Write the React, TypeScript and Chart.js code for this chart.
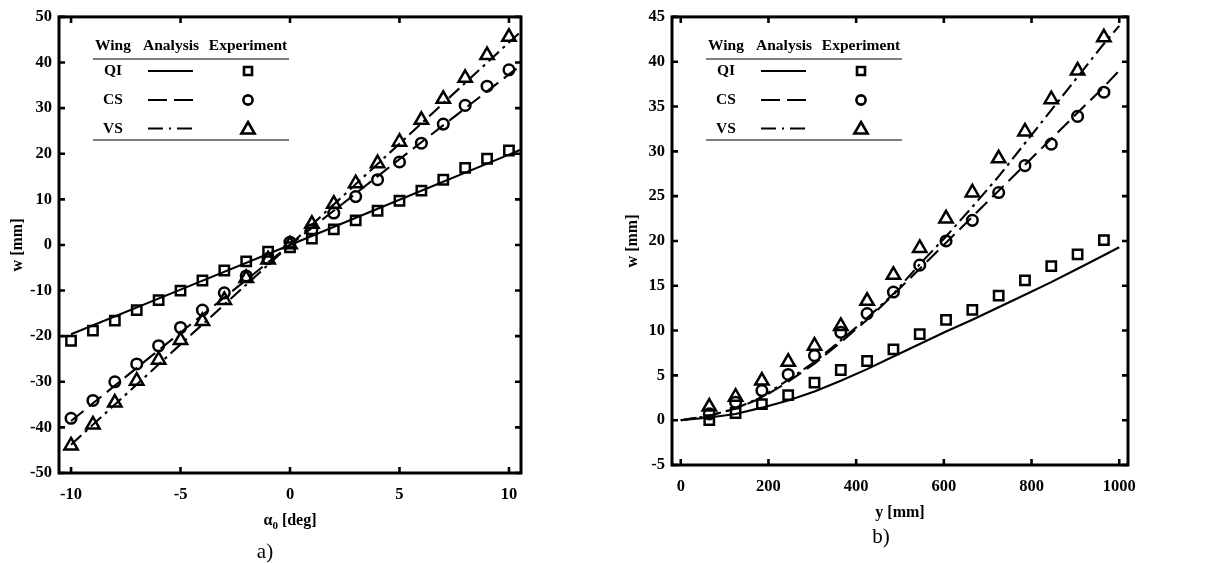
import { useEffect, useRef } from "react";
import { Chart, registerables } from "chart.js";

Chart.register(...registerables);

const FONT = '"Liberation Serif", "Times New Roman", serif';

// ---- Panel a) : deflection w versus root angle of attack alpha_0 ----
const alphaExp = [-10, -9, -8, -7, -6, -5, -4, -3, -2, -1, 0, 1, 2, 3, 4, 5, 6, 7, 8, 9, 10];
const qiExpA = [-21.0, -18.8, -16.6, -14.3, -12.1, -10.0, -7.8, -5.6, -3.6, -1.5, -0.5, 1.4, 3.4, 5.4, 7.5, 9.7, 11.9, 14.3, 16.9, 18.9, 20.7];
const csExpA = [-38.0, -34.1, -30.0, -26.1, -22.1, -18.1, -14.3, -10.5, -6.8, -3.0, 0.6, 3.3, 7.0, 10.6, 14.3, 18.2, 22.3, 26.5, 30.6, 34.8, 38.4];
const vsExpA = [-44.0, -39.4, -34.6, -29.8, -25.2, -20.9, -16.7, -12.1, -7.3, -3.2, 0.1, 4.6, 9.0, 13.5, 17.9, 22.6, 27.4, 32.0, 36.6, 41.6, 45.6];

const alphaAna = [-10, -5, 0, 5, 10, 10.5];
const qiAnaA = [-19.6, -9.8, 0, 9.9, 19.8, 20.8];
const csAnaA = [-38.6, -19.2, 0, 18.8, 37.4, 39.2];
const vsAnaA = [-43.8, -21.8, 0, 22.2, 44.4, 46.6];

const alphaTicks = [-10, -5, 0, 5, 10];
const wTicksA = [-50, -40, -30, -20, -10, 0, 10, 20, 30, 40, 50];

// ---- Panel b) : deflection w along the span y ----
const spanExp = [65, 125, 185, 245, 305, 365, 425, 485, 545, 605, 665, 725, 785, 845, 905, 965];
const qiExpB = [0.0, 0.8, 1.8, 2.8, 4.2, 5.6, 6.6, 7.9, 9.6, 11.2, 12.3, 13.9, 15.6, 17.2, 18.5, 20.1];
const csExpB = [0.7, 2.0, 3.3, 5.1, 7.2, 9.8, 11.9, 14.3, 17.3, 20.0, 22.3, 25.4, 28.4, 30.8, 33.9, 36.6];
const vsExpB = [1.5, 2.6, 4.4, 6.5, 8.3, 10.5, 13.3, 16.2, 19.2, 22.5, 25.4, 29.2, 32.2, 35.8, 39.0, 42.7];

const spanAna = [0, 65, 125, 185, 245, 305, 365, 425, 485, 545, 605, 665, 725, 785, 845, 905, 965, 1000];
const qiAnaB = [0, 0.3, 0.7, 1.4, 2.2, 3.2, 4.4, 5.7, 7.1, 8.5, 9.9, 11.2, 12.6, 14.0, 15.4, 16.9, 18.4, 19.3];
const csAnaB = [0, 0.5, 1.3, 2.5, 4.3, 6.3, 8.7, 11.2, 14.0, 16.9, 19.8, 22.7, 25.6, 28.5, 31.4, 34.3, 37.2, 39.0];
const vsAnaB = [0, 0.5, 1.3, 2.6, 4.5, 6.5, 8.9, 11.4, 14.1, 17.4, 20.5, 23.8, 27.2, 30.9, 34.6, 38.3, 42.0, 44.0];

const spanTicks = [0, 200, 400, 600, 800, 1000];
const wTicksB = [-5, 0, 5, 10, 15, 20, 25, 30, 35, 40, 45];

// ---- Legend table ----
const legendHeader = ["Wing", "Analysis", "Experiment"];
const wingNames = ["QI", "CS", "VS"];

const DASH = [16, 7];
const DASHDOT = [14, 5, 3, 5];
const lineDashes = [[], DASH, DASHDOT];
const legendDashes = [[], [19, 7], [15, 6, 2, 6]];
const markerStyles = ["rect", "circle", "triangle"] as const;
const markerRadii = [6.6, 5.3, 7.7];

type XY = { x: number; y: number };
const pts = (xs: number[], ys: number[]): XY[] => xs.map((x, i) => ({ x, y: ys[i] }));

function analysisSet(label: string, data: XY[], i: number) {
  return {
    label,
    data,
    showLine: true,
    borderColor: "#000",
    borderWidth: 2.1,
    borderDash: lineDashes[i],
    pointRadius: 0,
    fill: false,
    tension: 0,
  };
}

function experimentSet(label: string, data: XY[], i: number) {
  return {
    label,
    data,
    showLine: false,
    pointStyle: markerStyles[i],
    pointRadius: markerRadii[i],
    borderColor: "#000",
    backgroundColor: "rgba(0,0,0,0)",
    borderWidth: 2.5,
  };
}

function drawMarker(ctx: CanvasRenderingContext2D, kind: number, x: number, y: number) {
  ctx.save();
  ctx.strokeStyle = "#000";
  ctx.lineWidth = 2.6;
  ctx.setLineDash([]);
  ctx.beginPath();
  if (kind === 0) {
    ctx.rect(x - 4, y - 4, 8, 8);
  } else if (kind === 1) {
    ctx.arc(x, y, 4.6, 0, Math.PI * 2);
  } else {
    ctx.moveTo(x, y - 6.5);
    ctx.lineTo(x + 6.6, y + 5);
    ctx.lineTo(x - 6.6, y + 5);
    ctx.closePath();
  }
  ctx.stroke();
  ctx.restore();
}

function drawLegendTable(ctx: CanvasRenderingContext2D, left: number) {
  ctx.save();
  ctx.fillStyle = "#000";
  ctx.textAlign = "center";
  ctx.textBaseline = "middle";
  ctx.font = `bold 15.5px ${FONT}`;
  const colX = [left + 54, left + 112, left + 189];
  legendHeader.forEach((t, i) => ctx.fillText(t, colX[i], 46));
  ctx.strokeStyle = "#555";
  ctx.lineWidth = 1.3;
  [59, 140].forEach((yy) => {
    ctx.beginPath();
    ctx.moveTo(left + 34, yy);
    ctx.lineTo(left + 230, yy);
    ctx.stroke();
  });
  const rowY = [71, 100, 128.5];
  wingNames.forEach((n, i) => {
    ctx.fillStyle = "#000";
    ctx.fillText(n, colX[0], rowY[i]);
    ctx.strokeStyle = "#000";
    ctx.lineWidth = 2;
    ctx.setLineDash(legendDashes[i]);
    ctx.beginPath();
    ctx.moveTo(left + 89, rowY[i]);
    ctx.lineTo(left + 134, rowY[i]);
    ctx.stroke();
    ctx.setLineDash([]);
    drawMarker(ctx, i, colX[2], rowY[i]);
  });
  ctx.restore();
}

type PanelOpts = {
  xMin: number;
  xMax: number;
  yMin: number;
  yMax: number;
  xTicks: number[];
  yTicks: number[];
  yAxisWidth: number;
  xAxisHeight: number;
  padRight: number;
  xTitle: "alpha" | "span";
  caption: string;
  captionX: number;
  captionY: number;
  xTitleY: number;
  yTitleX: number;
  datasets: any[];
};

function drawXTitle(ctx: CanvasRenderingContext2D, kind: "alpha" | "span", cx: number, cy: number) {
  ctx.save();
  ctx.fillStyle = "#000";
  ctx.textBaseline = "middle";
  ctx.textAlign = "left";
  const main = `bold 16px ${FONT}`;
  const sub = `bold 11px ${FONT}`;
  if (kind === "alpha") {
    ctx.font = main;
    const wa = ctx.measureText("α").width;
    const wr = ctx.measureText(" [deg]").width;
    ctx.font = sub;
    const ws = ctx.measureText("0").width;
    let x = cx - (wa + ws + wr) / 2;
    ctx.font = main;
    ctx.fillText("α", x, cy);
    x += wa;
    ctx.font = sub;
    ctx.fillText("0", x, cy + 5);
    x += ws;
    ctx.font = main;
    ctx.fillText(" [deg]", x, cy);
  } else {
    ctx.font = main;
    ctx.textAlign = "center";
    ctx.fillText("y [mm]", cx, cy);
  }
  ctx.restore();
}

function framePlugin(o: PanelOpts) {
  return {
    id: "frameTicks",
    afterDraw(chart: any) {
      const { ctx, chartArea } = chart;
      const { left, right, top, bottom } = chartArea;
      const xs = chart.scales.x;
      const ys = chart.scales.y;
      ctx.save();
      ctx.strokeStyle = "#000";
      ctx.setLineDash([]);
      ctx.lineWidth = 2.6;
      const tl = 6;
      o.xTicks.forEach((v) => {
        const px = xs.getPixelForValue(v);
        ctx.beginPath();
        ctx.moveTo(px, bottom);
        ctx.lineTo(px, bottom - tl);
        ctx.moveTo(px, top);
        ctx.lineTo(px, top + tl);
        ctx.stroke();
      });
      o.yTicks.forEach((v) => {
        const py = ys.getPixelForValue(v);
        ctx.beginPath();
        ctx.moveTo(left, py);
        ctx.lineTo(left + tl, py);
        ctx.moveTo(right, py);
        ctx.lineTo(right - tl, py);
        ctx.stroke();
      });
      ctx.lineWidth = 3;
      ctx.strokeRect(left, top, right - left, bottom - top);

      // axis titles
      drawXTitle(ctx, o.xTitle, (left + right) / 2, o.xTitleY);
      ctx.save();
      ctx.translate(o.yTitleX, (top + bottom) / 2);
      ctx.rotate(-Math.PI / 2);
      ctx.font = `bold 16px ${FONT}`;
      ctx.fillStyle = "#000";
      ctx.textAlign = "center";
      ctx.textBaseline = "middle";
      ctx.fillText("w [mm]", 0, 0);
      ctx.restore();

      // panel caption
      ctx.font = `21px ${FONT}`;
      ctx.fillStyle = "#000";
      ctx.textAlign = "center";
      ctx.textBaseline = "middle";
      ctx.fillText(o.caption, o.captionX, o.captionY);

      drawLegendTable(ctx, left);
      ctx.restore();
    },
  };
}

function makeConfig(o: PanelOpts): any {
  const tickFont = { family: FONT, size: 16.5, weight: "bold" as const };
  return {
    type: "scatter",
    data: { datasets: o.datasets },
    options: {
      animation: false,
      responsive: false,
      maintainAspectRatio: false,
      layout: { padding: { top: 14, right: o.padRight, bottom: 0, left: 0 } },
      plugins: { legend: { display: false }, tooltip: { enabled: false } },
      scales: {
        x: {
          type: "linear",
          min: o.xMin,
          max: o.xMax,
          grid: { display: false, drawTicks: false },
          border: { display: false },
          ticks: {
            font: tickFont,
            color: "#000",
            padding: 12,
            maxRotation: 0,
            callback: (v: number) => String(v),
          },
          afterBuildTicks: (scale: any) => {
            scale.ticks = o.xTicks.map((value) => ({ value }));
          },
          afterFit: (scale: any) => {
            scale.height = o.xAxisHeight;
          },
        },
        y: {
          type: "linear",
          min: o.yMin,
          max: o.yMax,
          grid: { display: false, drawTicks: false },
          border: { display: false },
          ticks: {
            font: tickFont,
            color: "#000",
            padding: 7,
            callback: (v: number) => String(v),
          },
          afterBuildTicks: (scale: any) => {
            scale.ticks = o.yTicks.map((value) => ({ value }));
          },
          afterFit: (scale: any) => {
            scale.width = o.yAxisWidth;
          },
        },
      },
    },
    plugins: [framePlugin(o)],
  };
}

const panelA: PanelOpts = {
  xMin: -10.55,
  xMax: 10.55,
  yMin: -50,
  yMax: 50,
  xTicks: alphaTicks,
  yTicks: wTicksA,
  yAxisWidth: 59,
  xAxisHeight: 90,
  padRight: 89,
  xTitle: "alpha",
  caption: "a)",
  captionX: 265,
  captionY: 552,
  xTitleY: 521,
  yTitleX: 18,
  datasets: [
    analysisSet("QI analysis", pts(alphaAna, qiAnaA), 0),
    analysisSet("CS analysis", pts(alphaAna, csAnaA), 1),
    analysisSet("VS analysis", pts(alphaAna, vsAnaA), 2),
    experimentSet("QI experiment", pts(alphaExp, qiExpA), 0),
    experimentSet("CS experiment", pts(alphaExp, csExpA), 1),
    experimentSet("VS experiment", pts(alphaExp, vsExpA), 2),
  ],
};

const panelB: PanelOpts = {
  xMin: -20,
  xMax: 1020,
  yMin: -5,
  yMax: 45,
  xTicks: spanTicks,
  yTicks: wTicksB,
  yAxisWidth: 62,
  xAxisHeight: 98,
  padRight: 100,
  xTitle: "span",
  caption: "b)",
  captionX: 271,
  captionY: 537,
  xTitleY: 513,
  yTitleX: 23,
  datasets: [
    analysisSet("QI analysis", pts(spanAna, qiAnaB), 0),
    analysisSet("CS analysis", pts(spanAna, csAnaB), 1),
    analysisSet("VS analysis", pts(spanAna, vsAnaB), 2),
    experimentSet("QI experiment", pts(spanExp, qiExpB), 0),
    experimentSet("CS experiment", pts(spanExp, csExpB), 1),
    experimentSet("VS experiment", pts(spanExp, vsExpB), 2),
  ],
};

function Panel({ opts, left, width }: { opts: PanelOpts; left: number; width: number }) {
  const ref = useRef<HTMLCanvasElement | null>(null);
  useEffect(() => {
    if (!ref.current) return;
    const chart = new Chart(ref.current, makeConfig(opts));
    return () => chart.destroy();
  }, [opts]);
  return (
    <canvas
      ref={ref}
      width={width}
      height={563}
      style={{ position: "absolute", left, top: 0, width, height: 563 }}
    />
  );
}

export default function App() {
  return (
    <div
      style={{
        position: "absolute",
        left: 0,
        top: 0,
        width: 1228,
        height: 563,
        background: "#fff",
        overflow: "hidden",
      }}
    >
      <Panel opts={panelA} left={0} width={610} />
      <Panel opts={panelB} left={610} width={618} />
    </div>
  );
}
